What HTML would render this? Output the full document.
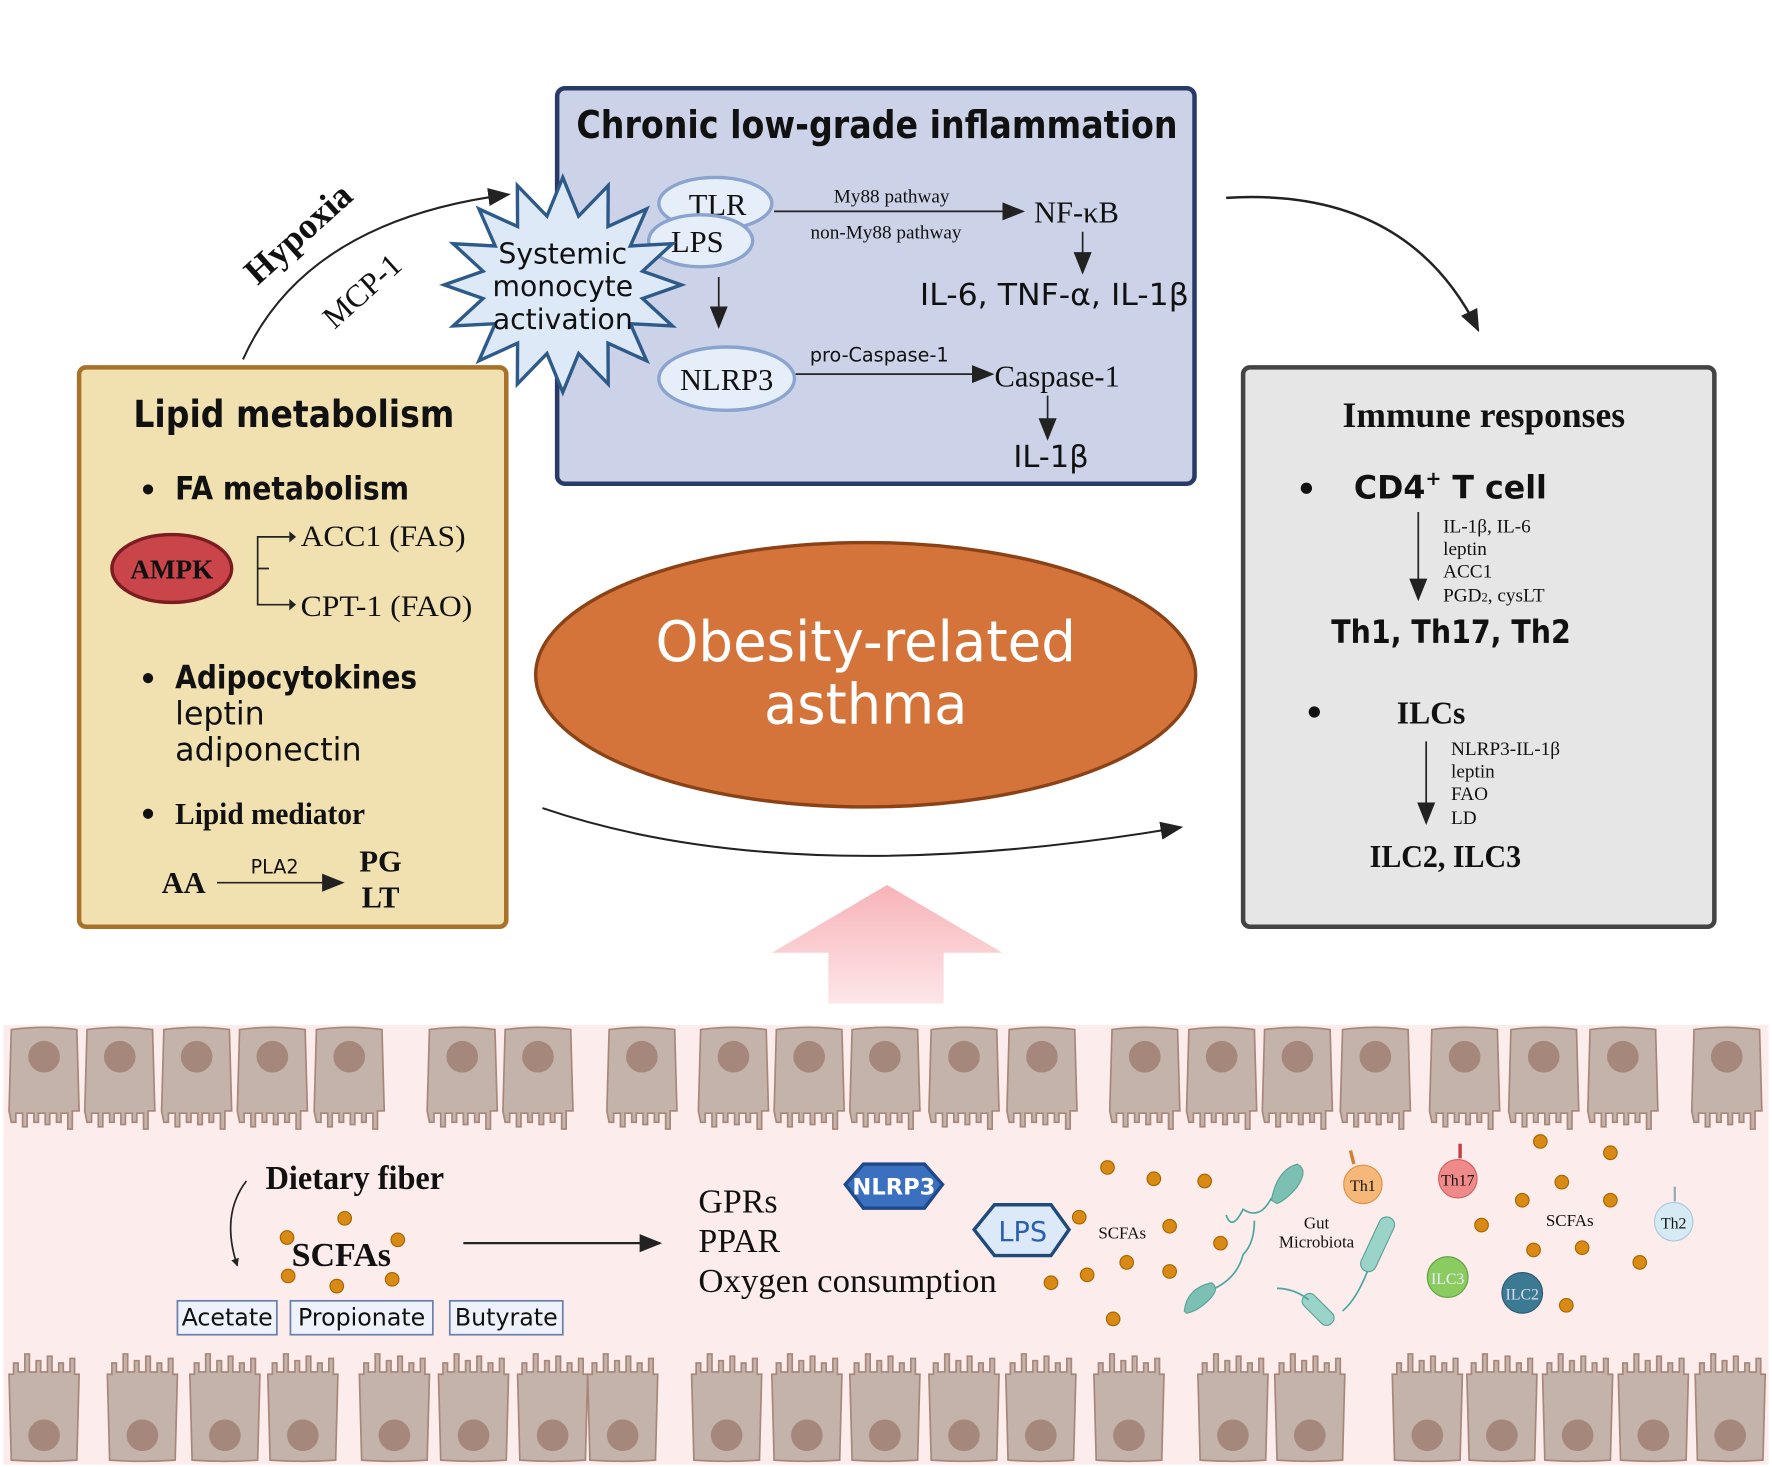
<!DOCTYPE html>
<html><head><meta charset="utf-8"><style>
html,body{margin:0;padding:0;background:#fff;}
svg{display:block;}
.s{font-family:"DejaVu Sans","Liberation Sans",sans-serif;}
.r{font-family:"Liberation Serif",serif;}
</style></head><body>
<svg width="1772" height="1467" viewBox="0 0 1568 1298" xmlns="http://www.w3.org/2000/svg">
<defs>
<marker id="ah" viewBox="0 0 10 10" refX="9" refY="5" markerWidth="7" markerHeight="7" orient="auto" markerUnits="userSpaceOnUse"><path d="M0,0 L10,5 L0,10 z" fill="#222"/></marker>
<marker id="ab" viewBox="0 0 10 10" refX="9" refY="5" markerWidth="20" markerHeight="20" orient="auto" markerUnits="userSpaceOnUse"><path d="M0,1 L10,5 L0,9 z" fill="#222"/></marker>
<linearGradient id="pg" x1="0" y1="0" x2="0" y2="1"><stop offset="0" stop-color="#f7b3b8"/><stop offset="1" stop-color="#fde6e8"/></linearGradient>
<g id="tc">
<path d="M2,2 Q31,-2 60,2 L62,74 L56,74 L56,90 L52,90 L52,76 L46,76 L46,84 L42,84 L42,76 L36,76 L36,86 L32,86 L32,76 L26,76 L26,84 L22,84 L22,76 L16,76 L16,88 L12,88 L12,76 L6,76 L6,84 L2,84 L0,74 Z" fill="#c4b3aa" stroke="#a8877a" stroke-width="1.5"/>
<circle cx="31" cy="26" r="14" fill="#a6877b"/>
</g>
<g id="bc">
<path d="M2,98 Q31,100 60,98 L62,22 L58,22 L58,8 L54,8 L54,20 L48,20 L48,12 L44,12 L44,20 L38,20 L38,6 L34,6 L34,20 L28,20 L28,10 L24,10 L24,20 L18,20 L18,4 L14,4 L14,20 L8,20 L8,12 L4,12 L4,22 L0,22 Z" fill="#c4b3aa" stroke="#a8877a" stroke-width="1.5"/>
<circle cx="31" cy="76" r="14" fill="#a6877b"/>
</g>
<circle id="d" r="6" fill="#d88a14" stroke="#a66400" stroke-width="1"/>
</defs>

<rect x="3" y="907" width="1562" height="389" fill="#fcecec"/>
<g>
<use href="#tc" x="8" y="909"/><use href="#tc" x="75" y="909"/><use href="#tc" x="143" y="909"/><use href="#tc" x="210" y="909"/><use href="#tc" x="278" y="909"/>
<use href="#tc" x="378" y="909"/><use href="#tc" x="445" y="909"/><use href="#tc" x="537" y="909"/><use href="#tc" x="618" y="909"/><use href="#tc" x="685" y="909"/>
<use href="#tc" x="752" y="909"/><use href="#tc" x="822" y="909"/><use href="#tc" x="891" y="909"/><use href="#tc" x="982" y="909"/><use href="#tc" x="1050" y="909"/>
<use href="#tc" x="1117" y="909"/><use href="#tc" x="1186" y="909"/><use href="#tc" x="1265" y="909"/><use href="#tc" x="1335" y="909"/><use href="#tc" x="1405" y="909"/><use href="#tc" x="1497" y="909"/>
</g>
<g>
<use href="#bc" x="8" y="1194"/><use href="#bc" x="95" y="1194"/><use href="#bc" x="168" y="1194"/><use href="#bc" x="237" y="1194"/><use href="#bc" x="318" y="1194"/>
<use href="#bc" x="388" y="1194"/><use href="#bc" x="458" y="1194"/><use href="#bc" x="520" y="1194"/><use href="#bc" x="612" y="1194"/><use href="#bc" x="683" y="1194"/>
<use href="#bc" x="752" y="1194"/><use href="#bc" x="822" y="1194"/><use href="#bc" x="890" y="1194"/><use href="#bc" x="968" y="1194"/><use href="#bc" x="1060" y="1194"/>
<use href="#bc" x="1128" y="1194"/><use href="#bc" x="1232" y="1194"/><use href="#bc" x="1298" y="1194"/><use href="#bc" x="1365" y="1194"/><use href="#bc" x="1432" y="1194"/><use href="#bc" x="1500" y="1194"/>
</g>

<text x="235" y="1052" class="r" font-size="30" font-weight="bold" fill="#111" textLength="158" lengthAdjust="spacingAndGlyphs">Dietary fiber</text>
<path d="M218,1045 Q195,1075 210,1120" fill="none" stroke="#222" stroke-width="1.5" marker-end="url(#ah)"/>
<text x="258" y="1120" class="r" font-size="30" font-weight="bold" fill="#111" textLength="88" lengthAdjust="spacingAndGlyphs">SCFAs</text>
<use href="#d" x="305" y="1078"/><use href="#d" x="254" y="1095"/><use href="#d" x="352" y="1097"/><use href="#d" x="255" y="1129"/><use href="#d" x="347" y="1132"/><use href="#d" x="298" y="1138"/>
<g class="s" font-size="21" fill="#111">
<rect x="157" y="1151" width="88" height="30" fill="#eef2fa" stroke="#6a7fae" stroke-width="1.5"/><text x="201" y="1173" text-anchor="middle">Acetate</text>
<rect x="257" y="1151" width="126" height="30" fill="#eef2fa" stroke="#6a7fae" stroke-width="1.5"/><text x="320" y="1173" text-anchor="middle">Propionate</text>
<rect x="398" y="1151" width="100" height="30" fill="#eef2fa" stroke="#6a7fae" stroke-width="1.5"/><text x="448" y="1173" text-anchor="middle">Butyrate</text>
</g>
<line x1="410" y1="1100" x2="584" y2="1100" stroke="#222" stroke-width="2" marker-end="url(#ab)"/>
<g class="r" font-size="30" fill="#111">
<text x="618" y="1073">GPRs</text><text x="618" y="1108">PPAR</text><text x="618" y="1143" textLength="264" lengthAdjust="spacingAndGlyphs">Oxygen consumption</text>
</g>
<polygon points="748,1048 764,1030 818,1030 834,1048 818,1069 764,1069" fill="#3b6fc0" stroke="#1f4a8a" stroke-width="3"/>
<text x="791" y="1057" text-anchor="middle" class="s" font-size="20" font-weight="bold" fill="#fff">NLRP3</text>
<polygon points="862,1088 880,1066 930,1066 946,1088 930,1111 880,1111" fill="#dbe9f8" stroke="#1f4a7a" stroke-width="3"/>
<text x="905" y="1098" text-anchor="middle" class="s" font-size="24" fill="#2b5fb0">LPS</text>
<text x="993" y="1096" text-anchor="middle" class="r" font-size="15" fill="#111">SCFAs</text>
<text x="1165" y="1087" text-anchor="middle" class="r" font-size="15" fill="#111">Gut</text>
<text x="1165" y="1104" text-anchor="middle" class="r" font-size="15" fill="#111">Microbiota</text>
<text x="1389" y="1085" text-anchor="middle" class="r" font-size="15" fill="#111">SCFAs</text>
<path d="M1125,1062 Q1130,1035 1148,1030 Q1158,1035 1148,1050 Q1138,1062 1130,1065 Z" fill="#7cc0b4" stroke="#5aa396"/>
<path d="M1125,1060 Q1115,1080 1100,1070 Q1090,1090 1085,1075" fill="none" stroke="#4aa6a0" stroke-width="1.5"/>
<path d="M1048,1160 Q1050,1140 1072,1135 Q1080,1140 1070,1150 Q1060,1160 1050,1162 Z" fill="#7cc0b4" stroke="#5aa396"/>
<path d="M1075,1140 Q1095,1130 1100,1110 Q1110,1100 1110,1080" fill="none" stroke="#4aa6a0" stroke-width="1.5"/>
<rect x="1212" y="1075" width="14" height="52" rx="7" transform="rotate(25 1219 1101)" fill="#9ad4c8" stroke="#5aa396"/>
<path d="M1210,1125 Q1200,1150 1188,1160" fill="none" stroke="#4aa6a0" stroke-width="1.5"/>
<rect x="1160" y="1142" width="13" height="34" rx="6" transform="rotate(-45 1166 1159)" fill="#9ad4c8" stroke="#5aa396"/>
<path d="M1158,1150 Q1145,1140 1130,1140" fill="none" stroke="#4aa6a0" stroke-width="1.5"/>
<circle cx="1206" cy="1048" r="17" fill="#f6b878" stroke="#e09040"/><line x1="1198" y1="1030" x2="1195" y2="1018" stroke="#d08030" stroke-width="3"/>
<text x="1206" y="1054" text-anchor="middle" class="r" font-size="14" fill="#111">Th1</text>
<circle cx="1290" cy="1043" r="17" fill="#f08a8a" stroke="#d06060"/><line x1="1292" y1="1025" x2="1292" y2="1012" stroke="#c04040" stroke-width="3"/>
<text x="1290" y="1049" text-anchor="middle" class="r" font-size="14" fill="#111">Th17</text>
<circle cx="1481" cy="1081" r="17" fill="#d6eaf4" stroke="#a8c8dc"/><line x1="1482" y1="1063" x2="1482" y2="1050" stroke="#9ab" stroke-width="2"/>
<text x="1481" y="1087" text-anchor="middle" class="r" font-size="14" fill="#111">Th2</text>
<circle cx="1281" cy="1130" r="18" fill="#8acc60" stroke="#5fa040"/>
<text x="1281" y="1136" text-anchor="middle" class="r" font-size="14" fill="#eef">ILC3</text>
<circle cx="1347" cy="1144" r="18" fill="#3c7a94" stroke="#2a5a70"/>
<text x="1347" y="1150" text-anchor="middle" class="r" font-size="14" fill="#dde">ILC2</text>
<use href="#d" x="980" y="1033"/><use href="#d" x="1021" y="1043"/><use href="#d" x="1066" y="1045"/><use href="#d" x="955" y="1077"/><use href="#d" x="1035" y="1085"/>
<use href="#d" x="1080" y="1100"/><use href="#d" x="997" y="1117"/><use href="#d" x="1035" y="1125"/><use href="#d" x="962" y="1128"/><use href="#d" x="930" y="1135"/><use href="#d" x="985" y="1167"/>
<use href="#d" x="1363" y="1010"/><use href="#d" x="1425" y="1020"/><use href="#d" x="1382" y="1046"/><use href="#d" x="1347" y="1062"/><use href="#d" x="1425" y="1062"/>
<use href="#d" x="1311" y="1084"/><use href="#d" x="1357" y="1106"/><use href="#d" x="1400" y="1104"/><use href="#d" x="1451" y="1117"/><use href="#d" x="1386" y="1155"/>

<path d="M733,888 L733,843 L683,843 L785,783 L887,843 L835,843 L835,888 Z" fill="url(#pg)"/>

<ellipse cx="766" cy="597" rx="292" ry="117" fill="#d4743a" stroke="#8a4216" stroke-width="3"/>
<text x="766" y="585" text-anchor="middle" class="s" font-size="50" fill="#fff" textLength="372" lengthAdjust="spacingAndGlyphs">Obesity-related</text>
<text x="766" y="640" text-anchor="middle" class="s" font-size="50" fill="#fff" textLength="180" lengthAdjust="spacingAndGlyphs">asthma</text>

<path d="M215,318 Q270,195 450,172" fill="none" stroke="#222" stroke-width="1.8" marker-end="url(#ab)"/>
<text transform="translate(228,253) rotate(-42)" class="r" font-size="32" font-weight="bold" fill="#111">Hypoxia</text>
<text transform="translate(296,292) rotate(-42)" class="r" font-size="28" fill="#111">MCP-1</text>
<path d="M1085,175 Q1245,165 1308,292" fill="none" stroke="#222" stroke-width="2.2" marker-end="url(#ab)"/>
<path d="M480,715 Q700,790 1045,732" fill="none" stroke="#222" stroke-width="1.8" marker-end="url(#ab)"/>

<rect x="70" y="325" width="378" height="495" rx="6" fill="#f1e1b1" stroke="#a8722a" stroke-width="4"/>
<text x="118" y="378" class="s" font-size="33" font-weight="600" fill="#111" textLength="284" lengthAdjust="spacingAndGlyphs">Lipid metabolism</text>
<g class="s" font-size="28" fill="#111">
<circle cx="131" cy="433" r="4.5"/><text x="155" y="442" font-weight="600" textLength="207" lengthAdjust="spacingAndGlyphs">FA metabolism</text>
<circle cx="131" cy="600" r="4.5"/><text x="155" y="609" font-weight="600" textLength="214" lengthAdjust="spacingAndGlyphs">Adipocytokines</text>
<text x="155" y="641">leptin</text><text x="155" y="673" textLength="165" lengthAdjust="spacingAndGlyphs">adiponectin</text>
</g>
<ellipse cx="152" cy="503" rx="53" ry="30" fill="#c9454a" stroke="#7a1c20" stroke-width="3"/>
<text x="152" y="512" text-anchor="middle" class="r" font-size="24" font-weight="bold" fill="#111">AMPK</text>
<path d="M238,503 L228,503 L228,475 L256,475 M228,503 L228,535 L256,535" fill="none" stroke="#222" stroke-width="1.5"/>
<path d="M256,470 L262,475 L256,480 Z M256,530 L262,535 L256,540 Z" fill="#222"/>
<text x="266" y="483" class="r" font-size="26" fill="#111" textLength="146" lengthAdjust="spacingAndGlyphs">ACC1 (FAS)</text>
<text x="266" y="545" class="r" font-size="26" fill="#111" textLength="152" lengthAdjust="spacingAndGlyphs">CPT-1 (FAO)</text>
<circle cx="131" cy="720" r="4.5" fill="#111"/>
<text x="155" y="729" class="r" font-size="27" font-weight="bold" fill="#111" textLength="168" lengthAdjust="spacingAndGlyphs">Lipid mediator</text>
<text x="143" y="790" class="r" font-size="27" font-weight="bold" fill="#111">AA</text>
<text x="243" y="773" text-anchor="middle" class="s" font-size="17" fill="#111">PLA2</text>
<line x1="192" y1="781" x2="303" y2="781" stroke="#222" stroke-width="1.5" marker-end="url(#ab)"/>
<text x="318" y="771" class="r" font-size="27" font-weight="bold" fill="#111">PG</text>
<text x="320" y="803" class="r" font-size="27" font-weight="bold" fill="#111">LT</text>

<rect x="493" y="78" width="564" height="350" rx="7" fill="#ccd3e8" stroke="#2a3a66" stroke-width="4"/>
<text x="510" y="122" class="s" font-size="34" font-weight="600" fill="#111" textLength="532" lengthAdjust="spacingAndGlyphs">Chronic low-grade inflammation</text>
<ellipse cx="633" cy="180" rx="50" ry="23" fill="#e6eef9" stroke="#8aa3cf" stroke-width="3"/>
<text x="635" y="190" text-anchor="middle" class="r" font-size="27" fill="#111">TLR</text>
<ellipse cx="620" cy="213" rx="46" ry="23" fill="#e6eef9" stroke="#8aa3cf" stroke-width="3"/>
<text x="617" y="223" text-anchor="middle" class="r" font-size="27" fill="#111">LPS</text>
<ellipse cx="643" cy="335" rx="60" ry="28" fill="#e6eef9" stroke="#8aa3cf" stroke-width="3"/>
<text x="643" y="345" text-anchor="middle" class="r" font-size="27" fill="#111">NLRP3</text>
<line x1="685" y1="187" x2="905" y2="187" stroke="#222" stroke-width="1.5" marker-end="url(#ab)"/>
<text x="789" y="179" text-anchor="middle" class="r" font-size="17" fill="#111">My88 pathway</text>
<text x="784" y="211" text-anchor="middle" class="r" font-size="17" fill="#111">non-My88 pathway</text>
<text x="915" y="197" class="r" font-size="27" fill="#111">NF-κB</text>
<line x1="958" y1="205" x2="958" y2="241" stroke="#222" stroke-width="1.5" marker-end="url(#ab)"/>
<text x="814" y="270" class="s" font-size="27" fill="#111" textLength="238" lengthAdjust="spacingAndGlyphs">IL-6, TNF-α, IL-1β</text>
<line x1="636" y1="245" x2="636" y2="289" stroke="#222" stroke-width="1.5" marker-end="url(#ab)"/>
<line x1="704" y1="331" x2="878" y2="331" stroke="#222" stroke-width="1.5" marker-end="url(#ab)"/>
<text x="778" y="320" text-anchor="middle" class="s" font-size="17" fill="#111">pro-Caspase-1</text>
<text x="880" y="342" class="r" font-size="27" fill="#111">Caspase-1</text>
<line x1="927" y1="350" x2="927" y2="388" stroke="#222" stroke-width="1.5" marker-end="url(#ab)"/>
<text x="930" y="413" text-anchor="middle" class="s" font-size="27" fill="#111">IL-1β</text>

<polygon points="603,252 568.6,264.1 595,288.4 557.8,286.4 572.2,319.2 538,303.6 538.2,339.8 512,312.8 498,347 484,312.8 457.8,339.8 458,303.6 423.8,319.2 438.2,286.4 401,288.4 427.4,264.1 393,252 427.4,239.9 401,215.6 438.2,217.6 423.8,184.8 458,200.4 457.8,164.2 484,191.2 498,157 512,191.2 538.2,164.2 538,200.4 572.2,184.8 557.8,217.6 595,215.6 568.6,239.9" fill="#dde9f7" stroke="#2d5a88" stroke-width="3"/>
<g class="s" font-size="25" fill="#111" text-anchor="middle">
<text x="498" y="233">Systemic</text><text x="498" y="262">monocyte</text><text x="498" y="291">activation</text>
</g>

<rect x="1100" y="325" width="417" height="495" rx="6" fill="#e6e6e6" stroke="#444" stroke-width="4"/>
<text x="1188" y="378" class="r" font-size="32" font-weight="bold" fill="#111" textLength="250" lengthAdjust="spacingAndGlyphs">Immune responses</text>
<circle cx="1156" cy="432" r="5" fill="#111"/>
<text x="1198" y="441" class="s" font-size="28" font-weight="600" fill="#111">CD4<tspan font-size="17" dy="-12">+</tspan><tspan dy="12"> T cell</tspan></text>
<line x1="1255" y1="453" x2="1255" y2="530" stroke="#222" stroke-width="1.5" marker-end="url(#ab)"/>
<g class="r" font-size="17" fill="#111">
<text x="1277" y="471">IL-1β, IL-6</text><text x="1277" y="491">leptin</text><text x="1277" y="511">ACC1</text><text x="1277" y="532">PGD<tspan font-size="11">2</tspan>, cysLT</text>
</g>
<text x="1178" y="569" class="s" font-size="28" font-weight="bold" fill="#111" textLength="212" lengthAdjust="spacingAndGlyphs">Th1, Th17, Th2</text>
<circle cx="1163" cy="630" r="5" fill="#111"/>
<text x="1236" y="640" class="r" font-size="28" font-weight="bold" fill="#111">ILCs</text>
<line x1="1262" y1="656" x2="1262" y2="728" stroke="#222" stroke-width="1.5" marker-end="url(#ab)"/>
<g class="r" font-size="17" fill="#111">
<text x="1284" y="668">NLRP3-IL-1β</text><text x="1284" y="688">leptin</text><text x="1284" y="708">FAO</text><text x="1284" y="729">LD</text>
</g>
<text x="1212" y="767" class="r" font-size="28" font-weight="bold" fill="#111" textLength="134" lengthAdjust="spacingAndGlyphs">ILC2, ILC3</text>
</svg>
</body></html>
